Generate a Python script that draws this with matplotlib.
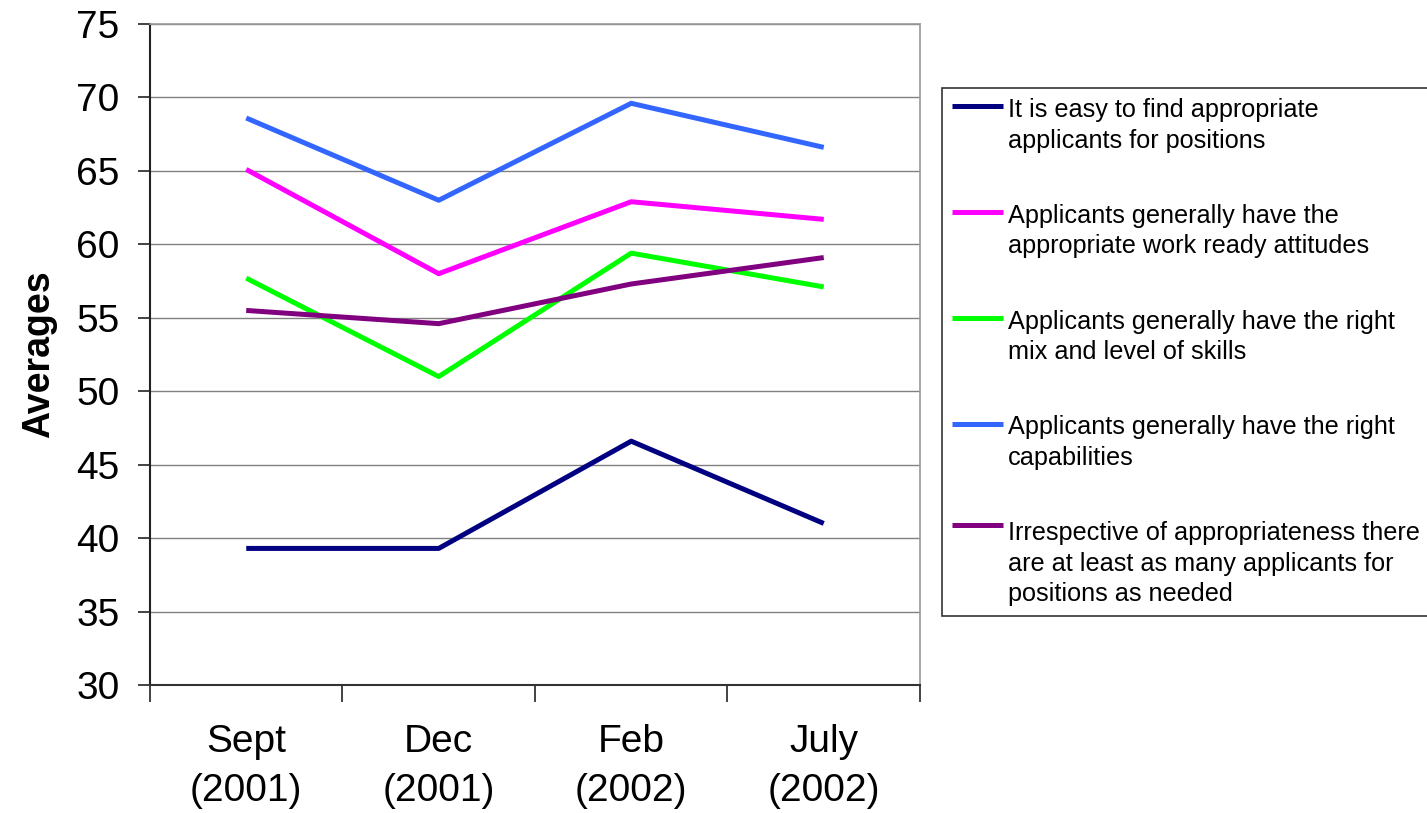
import matplotlib.pyplot as plt
import numpy as np
from matplotlib.legend_handler import HandlerLine2D

plt.rcParams['font.family'] = ['Liberation Sans', 'DejaVu Sans']

periods = ["Sept\n(2001)", "Dec\n(2001)", "Feb\n(2002)", "July\n(2002)"]

easy_to_find = [39.3, 39.3, 46.6, 41.0]
work_ready = [65.1, 58.0, 62.9, 61.7]
skills_mix = [57.7, 51.0, 59.4, 57.1]
capabilities = [68.6, 63.0, 69.6, 66.6]
enough_applicants = [55.5, 54.6, 57.3, 59.1]

labels = [
    "It is easy to find appropriate\napplicants for positions",
    "Applicants generally have the\nappropriate work ready attitudes",
    "Applicants generally have the right\nmix and level of skills",
    "Applicants generally have the right\ncapabilities",
    "Irrespective of appropriateness there\nare at least as many applicants for\npositions as needed",
]
colors = ["#000080", "#FF00FF", "#00FF00", "#3366FF", "#800080"]
series = [easy_to_find, work_ready, skills_mix, capabilities, enough_applicants]

LEG_SIZE = 18.2
LEG_LINESPACING = 1.35


class TopLineHandler(HandlerLine2D):
    # put the legend key next to the first line of a multi-line label
    def create_artists(self, legend, orig_handle, xdescent, ydescent,
                       width, height, fontsize, trans):
        arts = super().create_artists(legend, orig_handle, xdescent, ydescent,
                                      width, height, fontsize, trans)
        nlines = orig_handle.get_label().count("\n") + 1
        shift = (nlines - 1) * fontsize * LEG_LINESPACING * 1.15 / 2
        for a in arts:
            y = np.asarray(a.get_ydata(), dtype=float)
            a.set_ydata(y + shift)
        return arts


fig = plt.figure(figsize=(14.27, 8.13), dpi=100)
ax = fig.add_axes([0.1051, 0.1574, 0.5396, 0.8131])

x = np.arange(len(periods))
handles = []
for vals, lab, c in zip(series, labels, colors):
    h, = ax.plot(x, vals, color=c, linewidth=3.6, label=lab, solid_capstyle='butt')
    handles.append(h)

ax.set_xlim(-0.5, len(periods) - 0.5)
ax.set_ylim(30, 75)
ax.set_yticks(np.arange(30, 76, 5))
ax.set_xticks(x)
ax.set_xticklabels(periods, linespacing=1.45)
ax.set_xticks(np.arange(-0.5, len(periods), 1), minor=True)

ax.yaxis.grid(True, color="#808080", linewidth=1.0)
ax.set_axisbelow(True)

ax.tick_params(axis='y', labelsize=28, length=9, width=1.2, pad=13, color='#222222')
ax.tick_params(axis='x', which='major', labelsize=28, length=0, pad=28)
ax.tick_params(axis='x', which='minor', length=12, width=1.2, color='#222222')

ax.spines['left'].set_color('#222222')
ax.spines['left'].set_linewidth(1.5)
ax.spines['bottom'].set_color('#333333')
ax.spines['bottom'].set_linewidth(1.5)
for s in ('top', 'right'):
    ax.spines[s].set_color('#999999')
    ax.spines[s].set_linewidth(1.2)

ax.set_ylabel("Averages", fontsize=27, fontweight='bold', labelpad=14)

leg = fig.legend(handles=handles, loc='upper left',
                 bbox_to_anchor=(942 / 1427, 1 - 88 / 813),
                 fontsize=LEG_SIZE, frameon=True, fancybox=False,
                 edgecolor='black', handlelength=2.0, handletextpad=0.2,
                 labelspacing=2.02, borderpad=0.4, borderaxespad=0,
                 handler_map={plt.Line2D: TopLineHandler()})
leg.get_frame().set_linewidth(1.2)
for t in leg.get_texts():
    t.set_linespacing(LEG_LINESPACING)

fig.savefig("out.png", dpi=100)
